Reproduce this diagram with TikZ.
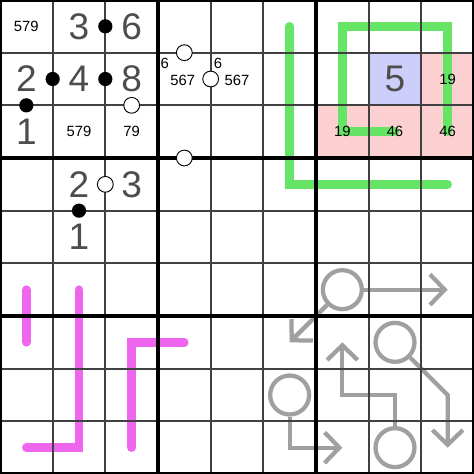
\documentclass[tikz,border=0pt]{standalone}
\usepackage{fontspec}
\setmainfont{Liberation Sans}
\usepackage{xcolor}
\usetikzlibrary{arrows.meta}
\definecolor{digitgray}{RGB}{77,77,77}
\definecolor{linegreen}{RGB}{102,228,102}
\definecolor{linepink}{RGB}{238,102,238}
\definecolor{arrowgray}{RGB}{160,160,160}
\definecolor{cellpink}{RGB}{252,208,208}
\definecolor{cellblue}{RGB}{206,206,250}
\tikzset{
    given/.style={font=\fontsize{20}{20}\selectfont, text=digitgray, inner sep=0pt},
    pencil/.style={font=\fontsize{8}{9}\selectfont, inner sep=0pt},
    blackdot/.style={circle, fill=black, inner sep=0pt, minimum size=0.27cm},
    whitedot/.style={circle, draw=black, fill=white, line width=0.5pt, inner sep=0pt, minimum size=0.3cm},
    thingrid/.style={line width=1.1pt, black!75},
    thickgrid/.style={line width=2.2pt, black},
    whisper/.style={line width=4.6pt, line cap=round, line join=miter},
    bulb/.style={circle, draw=arrowgray, line width=2.3pt, inner sep=0pt, minimum size=0.74cm},
    arrowline/.style={draw=arrowgray, line width=2.3pt, -{Straight Barb[length=0.28cm, width=0.58cm]}}
}

\begin{document}
\begin{tikzpicture}[x=1cm, y=-1cm]
    \useasboundingbox (0,0) rectangle (9,9);
    % Shaded cells
    \fill[cellblue] (7,1) rectangle (8,2);
    \fill[cellpink] (8,1) rectangle (9,2);
    \fill[cellpink] (6,2) rectangle (9,3);

    % Lines
    \draw[whisper, linegreen] (5.5,0.5) -- (5.5,3.5) -- (8.5,3.5);
    \draw[whisper, linegreen] (7.5,2.5) -- (6.5,2.5) -- (6.5,0.5) -- (8.5,0.5) -- (8.5,2.5);
    \draw[whisper, linepink] (0.5,5.5) -- (0.5,6.5);
    \draw[whisper, linepink] (1.5,5.5) -- (1.5,8.5) -- (0.5,8.5);
    \draw[whisper, linepink] (2.5,8.5) -- (2.5,6.5) -- (3.5,6.5);

    % Arrows
    \node[bulb] (b1) at (6.5,5.5) {};
    \node[bulb] (b2) at (7.5,6.5) {};
    \node[bulb] (b3) at (5.5,7.5) {};
    \node[bulb] (b4) at (7.5,8.5) {};
    \coordinate (t1) at (8.5,5.5);
    \coordinate (t2) at (5.5,6.5);
    \coordinate (t3) at (8.5,8.5);
    \coordinate (t4) at (6.5,8.5);
    \coordinate (t5) at (6.5,6.5);
    \draw[arrowline] (b1) -- (t1);
    \draw[arrowline] (b1) -- (t2);
    \draw[arrowline] (b2) -- (8.5,7.5) -- (t3);
    \draw[arrowline] (b3) |- (t4);
    \draw[arrowline] (b4) -- (7.5,7.5) -| (t5);

    % Grid
    \foreach \i in {1,...,8}
        \draw[thingrid] (\i,0) -- (\i,9) (0,\i) -- (9,\i);
    \foreach \i in {0,3,6,9}
        \draw[thickgrid] (\i,0) -- (\i,9) (0,\i) -- (9,\i);

    % Box 1
    \node[pencil] (p11) at (0.5,0.5) {579};
    \node[given] (g12) at (1.5,0.5) {3};
    \node[given] (g13) at (2.5,0.5) {6};
    \node[given] (g21) at (0.5,1.5) {2};
    \node[given] (g22) at (1.5,1.5) {4};
    \node[given] (g23) at (2.5,1.5) {8};
    \node[given] (g31) at (0.5,2.5) {1};
    \node[pencil] (p32) at (1.5,2.5) {579};
    \node[pencil] (p33) at (2.5,2.5) {79};
    \node[blackdot] (k1) at (2,0.5) {};
    \node[blackdot] (k2) at (1,1.5) {};
    \node[blackdot] (k3) at (2,1.5) {};
    \node[blackdot] (k4) at (0.5,2) {};
    \node[whitedot] (w1) at (2.5,2) {};

    % Box 2
    \node[whitedot] (w2) at (3.5,1) {};
    \node[whitedot] (w3) at (4,1.5) {};
    \node[whitedot] (w4) at (3.5,3) {};
    \node[pencil] (p24a) at (3.13,1.2) {6};
    \node[pencil] (p25a) at (4.14,1.2) {6};
    \node[pencil] (p24) at (3.47,1.52) {567};
    \node[pencil] (p25) at (4.5,1.52) {567};

    % Box 3
    \node[given] (g28) at (7.5,1.5) {5};
    \node[pencil] (p29) at (8.5,1.5) {19};
    \node[pencil] (p37) at (6.5,2.5) {19};
    \node[pencil] (p38) at (7.5,2.5) {46};
    \node[pencil] (p39) at (8.5,2.5) {46};

    % Box 4
    \node[given] (g42) at (1.5,3.5) {2};
    \node[given] (g43) at (2.5,3.5) {3};
    \node[given] (g52) at (1.5,4.5) {1};
    \node[whitedot] (w5) at (2,3.5) {};
    \node[blackdot] (k5) at (1.5,4) {};
\end{tikzpicture}
\end{document}
